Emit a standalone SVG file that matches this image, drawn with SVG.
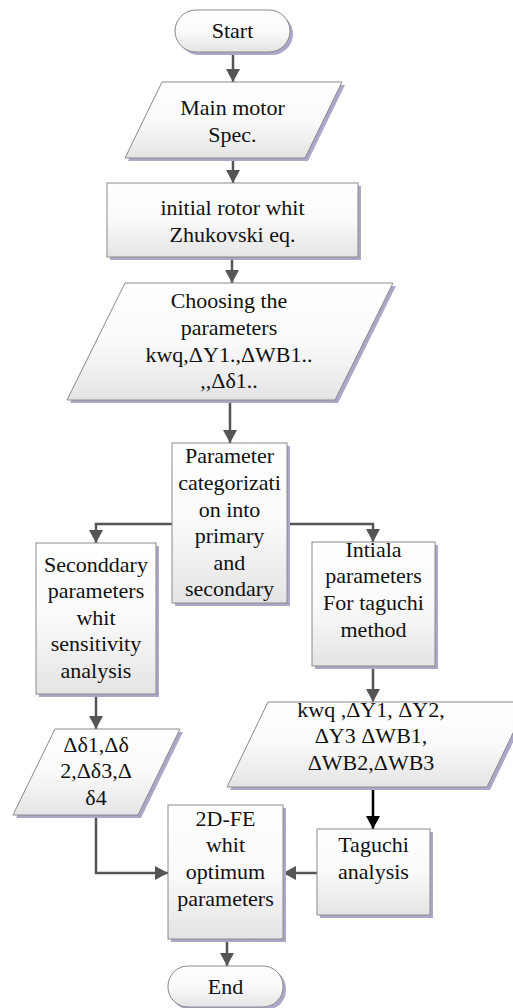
<svg xmlns="http://www.w3.org/2000/svg" width="513" height="1008" viewBox="0 0 513 1008">
<defs>
<linearGradient id="g" x1="0" y1="0" x2="0" y2="1">
<stop offset="0" stop-color="#ffffff"/>
<stop offset="0.5" stop-color="#fafafa"/>
<stop offset="1" stop-color="#e4e4e4"/>
</linearGradient>
<marker id="ah" markerUnits="userSpaceOnUse" markerWidth="16" markerHeight="16" refX="13" refY="7" orient="auto">
<path d="M0,0 L13,7 L0,14 Z" fill="#555"/>
</marker>
<marker id="ahk" markerUnits="userSpaceOnUse" markerWidth="16" markerHeight="16" refX="13" refY="7" orient="auto">
<path d="M0,0 L13,7 L0,14 Z" fill="#000"/>
</marker>
</defs>
<style>
.sh{fill:#aea6c8;}
.bx{fill:url(#g);stroke:#8a8a8a;stroke-width:1;}
text{font-family:"Times New Roman",Times,"Liberation Serif","DejaVu Serif","Noto Serif",serif;font-size:22px;fill:#111;text-anchor:middle;}
.c{fill:none;stroke:#555;stroke-width:2.5;marker-end:url(#ah);}
.ck{fill:none;stroke:#000;stroke-width:2.5;marker-end:url(#ahk);}
</style>
<rect width="513" height="1008" fill="#fff"/>

<g id="connectors">
<path class="c" d="M233,52 V82"/>
<path class="c" d="M233,158 V183"/>
<path class="c" d="M232,257 V283"/>
<path class="c" d="M230,400 V443"/>
<path class="c" d="M172,524 H96 V543"/>
<path class="c" d="M287,524 H373 V542"/>
<path class="c" d="M96,694 V729"/>
<path class="c" d="M373,666 V702"/>
<path class="ck" d="M373,787 V829"/>
<path class="c" d="M96,815 V873 H168"/>
<path class="c" d="M317,873 H283"/>
<path class="c" d="M227,939 V966"/>
</g>

<g id="start">
<rect class="sh" x="178" y="13" width="115" height="42" rx="21"/>
<rect class="bx" x="175" y="10" width="115" height="42" rx="21"/>
<text x="232.5" y="38">Start</text>
</g>

<g id="main">
<polygon class="sh" points="165,85 345,85 308,161 128,161"/>
<polygon class="bx" points="162,82 342,82 305,158 125,158"/>
<text x="232.5" y="115">Main motor</text>
<text x="232.5" y="142">Spec.</text>
</g>

<g id="initial">
<rect class="sh" x="110" y="186" width="251" height="74"/>
<rect class="bx" x="107" y="183" width="251" height="74"/>
<text x="232.5" y="215">initial rotor whit</text>
<text x="232.5" y="242">Zhukovski eq.</text>
</g>

<g id="choose">
<polygon class="sh" points="128,286 396,286 338,403 70,403"/>
<polygon class="bx" points="125,283 393,283 335,400 67,400"/>
<text x="229" y="308">Choosing the</text>
<text x="229" y="335">parameters</text>
<text x="229" y="362">kwq,ΔY1.,ΔWB1..</text>
<text x="229" y="388">,,Δδ1..</text>
</g>

<g id="param">
<rect class="sh" x="175" y="446" width="115" height="160"/>
<rect class="bx" x="172" y="443" width="115" height="160"/>
<text x="229.5" y="463">Parameter</text>
<text x="229.5" y="490">categorizati</text>
<text x="229.5" y="517">on into</text>
<text x="229.5" y="543">primary</text>
<text x="229.5" y="570">and</text>
<text x="229.5" y="596">secondary</text>
</g>

<g id="secondary">
<rect class="sh" x="39" y="546" width="120" height="151"/>
<rect class="bx" x="36" y="543" width="120" height="151"/>
<text x="96" y="572">Seconddary</text>
<text x="96" y="598">parameters</text>
<text x="96" y="625">whit</text>
<text x="96" y="651">sensitivity</text>
<text x="96" y="678">analysis</text>
</g>

<g id="intiala">
<rect class="sh" x="315" y="545" width="123" height="124"/>
<rect class="bx" x="312" y="542" width="123" height="124"/>
<text x="373.5" y="557">Intiala</text>
<text x="373.5" y="583">parameters</text>
<text x="373.5" y="610">For taguchi</text>
<text x="373.5" y="637">method</text>
</g>

<g id="kwq">
<polygon class="sh" points="271,705 531,705 490,790 230,790"/>
<polygon class="bx" points="268,702 528,702 487,787 227,787"/>
<text x="371" y="717">kwq ,ΔY1, ΔY2,</text>
<text x="371" y="743">ΔY3 ΔWB1,</text>
<text x="371" y="770">ΔWB2,ΔWB3</text>
</g>

<g id="delta">
<polygon class="sh" points="58,732 183,732 141,818 16,818"/>
<polygon class="bx" points="55,729 180,729 138,815 13,815"/>
<text x="96" y="752">Δδ1,Δδ</text>
<text x="96" y="778">2,Δδ3,Δ</text>
<text x="96" y="805">δ4</text>
</g>

<g id="fe">
<rect class="sh" x="171" y="808" width="115" height="134"/>
<rect class="bx" x="168" y="805" width="115" height="134"/>
<text x="225.5" y="826">2D-FE</text>
<text x="225.5" y="852">whit</text>
<text x="225.5" y="879">optimum</text>
<text x="225.5" y="906">parameters</text>
</g>

<g id="taguchi">
<rect class="sh" x="320" y="832" width="113" height="86"/>
<rect class="bx" x="317" y="829" width="113" height="86"/>
<text x="373.5" y="852">Taguchi</text>
<text x="373.5" y="879">analysis</text>
</g>

<g id="end">
<rect class="sh" x="171" y="969" width="115" height="41" rx="20"/>
<rect class="bx" x="168" y="966" width="115" height="41" rx="20"/>
<text x="225.5" y="994">End</text>
</g>
</svg>
